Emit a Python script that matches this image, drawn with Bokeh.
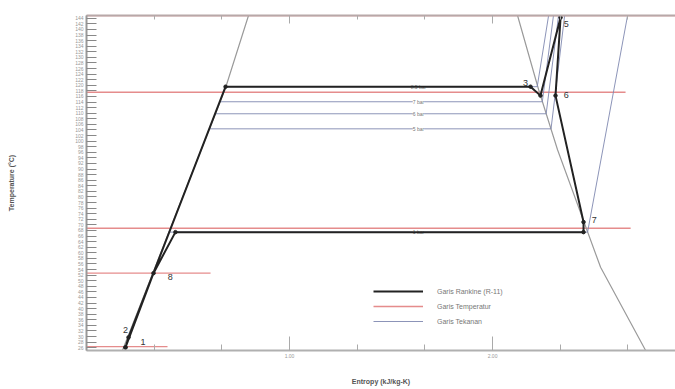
from bokeh.plotting import figure
from bokeh.models import LinearAxis, FixedTicker, Legend, LegendItem, Range1d
from bokeh.core.properties import value
from bokeh.embed import file_html
from bokeh.resources import INLINE

# ---- data (entropy kJ/kg-K, temperature degC) ----
sat_liq_s = [0.177, 0.685, 0.798]
sat_liq_T = [25.0, 119.1, 145.0]
sat_vap_s = [2.123, 2.227, 2.320, 2.532, 2.754]
sat_vap_T = [145.0, 118.4, 96.9, 54.8, 25.0]

cycle_s = [0.192, 0.207, 0.685, 2.187, 2.236, 2.335, 2.310, 2.448, 2.448, 0.438, 0.330, 0.192]
cycle_T = [26.1, 29.7, 119.5, 119.5, 116.3, 144.3, 116.3, 71.0, 67.4, 67.4, 52.7, 26.1]

state_labels = ["1", "2", "3", "5", "6", "7", "8"]
state_label_s = [0.266, 0.180, 2.150, 2.350, 2.350, 2.488, 0.400]
state_label_T = [28.0, 32.5, 121.0, 142.0, 116.6, 71.7, 51.2]

isobar_names = ["8.5 bar", "7 bar", "6 bar", "5 bar", "1 bar"]
isobar_T = [119.5, 114.1, 109.8, 104.4, 67.4]
isobar_liq_s = [0.689, 0.658, 0.635, 0.605, 0.406]
isobar_vap_s = [2.220, 2.245, 2.264, 2.288, 2.468]
isobar_top_s = [2.276, 2.300, 2.325, 2.355, 2.665]
isobar_label_s = 1.635

temp_T = [145.0, 117.5, 68.8, 52.7, 26.4]
temp_end_s = [2.901, 2.655, 2.680, 0.611, 0.399]

x_major = [1.0, 2.0]
x_minor = [0.0, 0.3333, 0.6667, 1.3333, 1.6667, 2.3333, 2.6667]
y_ticks = list(range(26, 146, 2))

FONT = "Liberation Sans"

p = figure(width=675, height=389, output_backend="svg", toolbar_location=None,
           x_range=Range1d(0, 2.901), y_range=Range1d(25, 145),
           min_border_left=86, min_border_right=0, min_border_top=15, min_border_bottom=39,
           x_axis_label="Entropy (kJ/kg-K)", y_axis_label="Temperature (\u00b0C)")
p.outline_line_color = None
p.grid.visible = False

# x axis
xa = p.xaxis[0]
xa.ticker = FixedTicker(ticks=x_major, minor_ticks=x_minor)
xa.major_label_overrides = {1.0: "1.00", 2.0: "2.00"}
xa.major_tick_in = 14
xa.major_tick_out = 0
xa.minor_tick_in = 6
xa.minor_tick_out = 0
xa.axis_line_color = "#b0b0b0"
xa.axis_line_width = 2
xa.major_tick_line_color = "#aaaaaa"
xa.minor_tick_line_color = "#aaaaaa"
xa.major_label_text_font_size = "5px"
xa.major_label_text_color = "#999999"
xa.major_label_standoff = 3
xa.axis_label_text_font = FONT
xa.axis_label_text_font_size = "7px"
xa.axis_label_text_font_style = "bold"
xa.axis_label_text_color = "#555555"
xa.axis_label_standoff = 17

# y axis
ya = p.yaxis[0]
ya.ticker = FixedTicker(ticks=y_ticks, minor_ticks=[])
ya.major_tick_in = 10
ya.major_tick_out = 0
ya.axis_line_color = "#999999"
ya.axis_line_width = 2
ya.major_tick_line_color = "#888888"
ya.major_label_text_font_size = "5px"
ya.major_label_text_color = "#999999"
ya.major_label_standoff = 3
ya.axis_label_text_font = FONT
ya.axis_label_text_font_size = "7px"
ya.axis_label_text_font_style = "bold"
ya.axis_label_text_color = "#555555"
ya.axis_label_standoff = 57

# top axis (ticks only)
top = LinearAxis(ticker=FixedTicker(ticks=x_major, minor_ticks=x_minor))
top.major_label_overrides = {1.0: "", 2.0: ""}
top.major_label_text_font_size = "5px"
top.major_label_standoff = 0
top.major_tick_in = 8
top.major_tick_out = 0
top.minor_tick_in = 4
top.minor_tick_out = 0
top.axis_line_color = "#b8a8a8"
top.axis_line_width = 2
top.major_tick_line_color = "#aaaaaa"
top.minor_tick_line_color = "#aaaaaa"
p.add_layout(top, "above")

# temperature lines (red)
temp_xs = [[0.0, e] for e in temp_end_s]
temp_ys = [[t, t] for t in temp_T]
r_temp = p.multi_line(temp_xs, temp_ys, line_color="#e07878", line_width=1.3, line_alpha=0.85)

# saturation dome
p.line(sat_liq_s, sat_liq_T, line_color="#9a9a9a", line_width=1.2)
p.line(sat_vap_s, sat_vap_T, line_color="#9a9a9a", line_width=1.2)

# isobars
iso_xs = [[a, b, c] for a, b, c in zip(isobar_liq_s, isobar_vap_s, isobar_top_s)]
iso_ys = [[t, t, 145.0] for t in isobar_T]
r_iso = p.multi_line(iso_xs, iso_ys, line_color="#7f88b0", line_width=1.0, line_alpha=0.9)
p.text(x=[isobar_label_s] * len(isobar_T), y=isobar_T, text=isobar_names,
       text_font=value(FONT), text_font_size="5px", text_color="#777777",
       text_align="center", text_baseline="middle",
       background_fill_color="white")

# Rankine cycle
r_cyc = p.line(cycle_s, cycle_T, line_color="#222222", line_width=2)
p.scatter(cycle_s, cycle_T, size=3.5, color="#222222")
p.text(x=state_label_s, y=state_label_T, text=state_labels,
       text_font=value(FONT), text_font_size="9px", text_color="#333333",
       text_align="left", text_baseline="middle")

legend = Legend(items=[
    LegendItem(label="Garis Rankine (R-11)", renderers=[r_cyc]),
    LegendItem(label="Garis Temperatur", renderers=[r_temp]),
    LegendItem(label="Garis Tekanan", renderers=[r_iso]),
], location=(287, 23))
legend.border_line_color = None
legend.background_fill_alpha = 0
legend.glyph_width = 50
legend.glyph_height = 12
legend.label_height = 12
legend.spacing = 3
legend.label_standoff = 14
legend.label_text_font = FONT
legend.label_text_font_size = "7px"
legend.label_text_color = "#777777"
p.add_layout(legend, "center")

open("out.html", "w").write(file_html(p, INLINE))
